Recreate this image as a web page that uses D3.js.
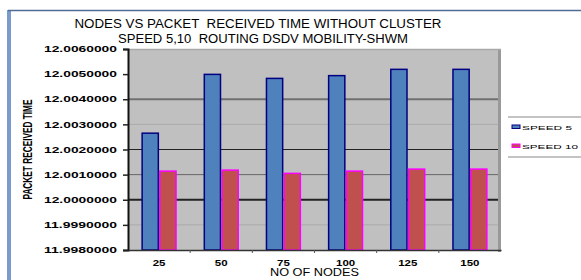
<!DOCTYPE html>
<html>
<head>
<meta charset="utf-8">
<script src="https://cdn.jsdelivr.net/npm/d3@7"></script>
<style>
  body { margin: 0; background: #fff; }
  svg { display: block; font-family: "Liberation Sans", Arial, sans-serif; }
  text { white-space: pre; fill: #000; }
</style>
</head>
<body>
<div id="chart"></div>
<script>
// data
const nodes = ["25", "50", "75", "100", "125", "150"];
const seriesNames = ["SPEED 5", "SPEED 10"];
const speed5 = [12.00265, 12.00499, 12.00483, 12.00494, 12.00519, 12.00519];
const speed10 = [12.00114, 12.00118, 12.00105, 12.00114, 12.00122, 12.00122];
const yTicks = [11.998, 11.999, 12.0, 12.001, 12.002, 12.003, 12.004, 12.005, 12.006];
const titleLines = [
  "NODES VS PACKET  RECEIVED TIME WITHOUT CLUSTER",
  "SPEED 5,10  ROUTING DSDV MOBILITY-SHWM"
];

// gridline look per tick (excel export is a bit uneven)
const gridStyle = [
  null,
  ["#aaa", 1],
  ["#222", 2],
  ["#666", 1],
  ["#222", 1],
  ["#aaa", 1],
  ["#707070", 2],
  null,
  null
];

const width = 581, height = 280;
const plotL = 128, plotR = 501, plotT = 49, plotB = 250;

const svg = d3.select("#chart").append("svg")
  .attr("width", width)
  .attr("height", height);

// outer frame
svg.append("rect").attr("x", 7).attr("y", 10).attr("width", 4).attr("height", 270).attr("fill", "#7b9bcb");
svg.append("line").attr("x1", 8).attr("x2", 581).attr("y1", 10.5).attr("y2", 10.5)
  .attr("stroke", "#4f6d98").attr("stroke-width", 1.5);

const x0 = d3.scaleBand().domain(nodes).range([plotL, plotR]);
const x1 = d3.scaleBand().domain(seriesNames).range([0, x0.bandwidth()]).paddingOuter(0.756);
const y = d3.scaleLinear().domain([11.998, 12.006]).range([plotB, plotT]);

// plot area
svg.append("rect")
  .attr("x", plotL).attr("y", plotT)
  .attr("width", plotR - plotL).attr("height", plotB - plotT)
  .attr("fill", "#c0c0c0");
svg.append("line").attr("x1", plotR - 1.5).attr("x2", plotR - 1.5).attr("y1", plotT).attr("y2", plotB + 2)
  .attr("stroke", "#999").attr("stroke-width", 3);
svg.append("line").attr("x1", plotL).attr("x2", plotR).attr("y1", plotT + 0.5).attr("y2", plotT + 0.5)
  .attr("stroke", "#a8a8a8").attr("stroke-width", 1.5);

// gridlines
yTicks.forEach((t, i) => {
  const s = gridStyle[i];
  if (!s) return;
  svg.append("line")
    .attr("x1", plotL).attr("x2", plotR - 3)
    .attr("y1", y(t)).attr("y2", y(t))
    .attr("stroke", s[0]).attr("stroke-width", s[1]);
});

// bars
const rows = nodes.map((n, i) => ({ node: n, values: [speed5[i], speed10[i]] }));
const fills = ["#4f81bd", "#c0504d"];
const strokes = ["#000080", "#ff00ff"];

const groups = svg.append("g").selectAll("g")
  .data(rows)
  .join("g")
  .attr("transform", d => `translate(${x0(d.node)},0)`);

groups.selectAll("rect")
  .data(d => d.values.map((v, j) => ({ key: seriesNames[j], v, j })))
  .join("rect")
  .attr("x", d => x1(d.key) + 0.75)
  .attr("y", d => y(d.v))
  .attr("width", x1.bandwidth() - 1.5)
  .attr("height", d => plotB - y(d.v))
  .attr("fill", d => fills[d.j])
  .attr("stroke", d => strokes[d.j])
  .attr("stroke-width", 1.5);

// axes
const yAxis = d3.axisLeft(y).tickValues(yTicks).tickFormat(d3.format(".7f")).tickSize(5).tickPadding(6);
const yg = svg.append("g").attr("transform", `translate(${plotL},0)`).call(yAxis);
yg.select(".domain").attr("stroke", "#111").attr("stroke-width", 2);
yg.selectAll(".tick line").attr("stroke", "#222").attr("stroke-width", 1.5);
yg.selectAll(".tick text")
  .attr("font-size", 8.5)
  .attr("font-weight", "bold")
  .attr("fill", "#000")
  .attr("textLength", 73)
  .attr("lengthAdjust", "spacingAndGlyphs");

const xAxis = d3.axisBottom(x0).tickSize(0).tickPadding(10);
const xg = svg.append("g").attr("transform", `translate(0,${plotB})`).call(xAxis);
xg.select(".domain").attr("stroke", "#333").attr("stroke-width", 1.5);
xg.selectAll(".tick text")
  .attr("font-size", 8.5)
  .attr("font-weight", "bold")
  .attr("fill", "#000")
  .each(function () {
    const w = this.getComputedTextLength();
    d3.select(this).attr("textLength", w * 1.35).attr("lengthAdjust", "spacingAndGlyphs");
  });
// small ticks between categories
svg.append("g").selectAll("line")
  .data(nodes.slice(1))
  .join("line")
  .attr("x1", d => x0(d)).attr("x2", d => x0(d))
  .attr("y1", plotB).attr("y2", plotB + 3)
  .attr("stroke", "#555");

// titles
svg.append("g").selectAll("text")
  .data(titleLines)
  .join("text")
  .attr("x", (d, i) => i === 0 ? 258 : 263)
  .attr("y", (d, i) => 28 + i * 15)
  .attr("text-anchor", "middle")
  .attr("font-size", 12.5)
  .attr("textLength", (d, i) => i === 0 ? 367 : 290)
  .attr("lengthAdjust", "spacingAndGlyphs")
  .text(d => d);

svg.append("text")
  .attr("x", (plotL + plotR) / 2)
  .attr("y", 276)
  .attr("text-anchor", "middle")
  .attr("font-size", 10)
  .attr("textLength", 89)
  .attr("lengthAdjust", "spacingAndGlyphs")
  .text("NO OF NODES");

svg.append("text")
  .attr("transform", `translate(32,${(plotT + plotB) / 2}) rotate(-90)`)
  .attr("text-anchor", "middle")
  .attr("font-size", 12)
  .attr("font-weight", "bold")
  .attr("textLength", 100)
  .attr("lengthAdjust", "spacingAndGlyphs")
  .text("PACKET RECEIVED TIME");

// legend
const legend = svg.append("g");
legend.append("rect").attr("x", 508).attr("y", 117).attr("width", 73).attr("height", 40).attr("fill", "#fff");
[117, 157].forEach(ly => legend.append("line")
  .attr("x1", 508).attr("x2", 581).attr("y1", ly).attr("y2", ly)
  .attr("stroke", "#888").attr("stroke-width", 1));
const items = legend.selectAll("g.item")
  .data(seriesNames)
  .join("g")
  .attr("class", "item")
  .attr("transform", (d, i) => `translate(512,${125 + i * 19})`);
items.append("rect")
  .attr("width", 8).attr("height", 3.5)
  .attr("fill", (d, i) => fills[i])
  .attr("stroke", (d, i) => strokes[i])
  .attr("stroke-width", 1);
items.append("text")
  .attr("x", 10).attr("y", 4.5)
  .attr("font-size", 6)
  .attr("textLength", (d, i) => i === 0 ? 50 : 56)
  .attr("lengthAdjust", "spacingAndGlyphs")
  .text(d => d);
</script>
</body>
</html>
